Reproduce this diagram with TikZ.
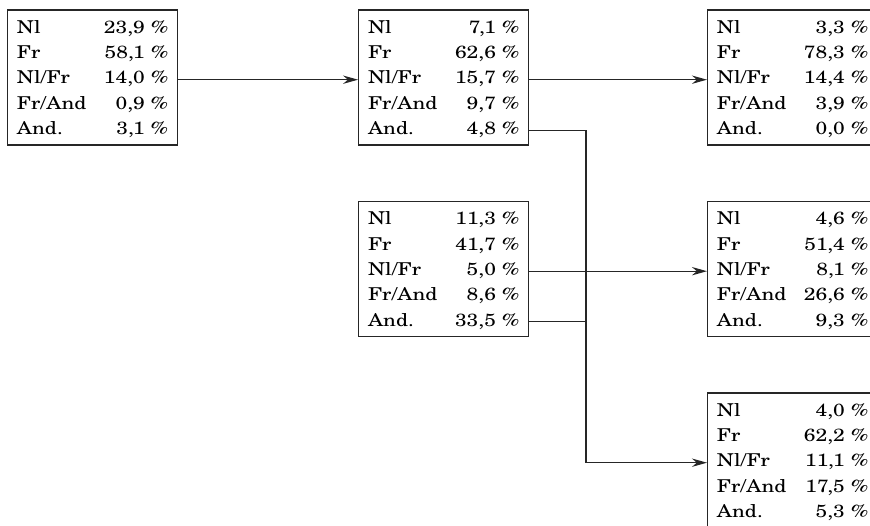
\documentclass[tikz,border=0pt]{standalone}
\usepackage{fontspec}
\setmainfont{texgyreschola-regular.otf}[FakeStretch=1.19]
\usetikzlibrary{matrix,arrows.meta,calc}
\tikzset{
  box/.style={matrix of nodes, draw=black!85, line width=0.75pt, inner xsep=5.6pt, inner ysep=2.5pt,
    nodes={inner sep=0pt, text height=11.5pt, text depth=3.7pt, font=\fontsize{10.6}{15}\selectfont},
    column 1/.style={nodes={text width=44pt, align=left}},
    column 2/.style={nodes={text width=46.8pt, align=right}},
    row sep=0pt, column sep=0pt},
  conn/.style={line width=0.75pt, draw=black!85},
  arr/.style={conn, -{Stealth[length=9pt, width=5pt]}}
}
\begin{document}
\begin{tikzpicture}[x=0.6pt, y=-0.6pt]
\useasboundingbox (0,0) rectangle (870,526);
\clip (0,0) rectangle (870,526);
\matrix (b1) [box] at (92.6,77.5) {
Nl & 23,9 \% \\
Fr & 58,1 \% \\
Nl/Fr & 14,0 \% \\
Fr/And & 0,9 \% \\
And. & 3,1 \% \\
};
\matrix (b2) [box] at (443.7,77.5) {
Nl & 7,1 \% \\
Fr & 62,6 \% \\
Nl/Fr & 15,7 \% \\
Fr/And & 9,7 \% \\
And. & 4,8 \% \\
};
\matrix (b3) [box] at (792.6,77.5) {
Nl & 3,3 \% \\
Fr & 78,3 \% \\
Nl/Fr & 14,4 \% \\
Fr/And & 3,9 \% \\
And. & 0,0 \% \\
};
\matrix (b4) [box] at (443.7,269) {
Nl & 11,3 \% \\
Fr & 41,7 \% \\
Nl/Fr & 5,0 \% \\
Fr/And & 8,6 \% \\
And. & 33,5 \% \\
};
\matrix (b5) [box] at (792.6,269) {
Nl & 4,6 \% \\
Fr & 51,4 \% \\
Nl/Fr & 8,1 \% \\
Fr/And & 26,6 \% \\
And. & 9,3 \% \\
};
\matrix (b6) [box] at (792.6,460.5) {
Nl & 4,0 \% \\
Fr & 62,2 \% \\
Nl/Fr & 11,1 \% \\
Fr/And & 17,5 \% \\
And. & 5,3 \% \\
};
\coordinate (vx) at (586,0);
\coordinate (a1) at ($(b1-3-2.east -| b1.east)+(0,2.2)$);
\coordinate (a2) at ($(b2-3-1.west -| b2.west)+(0,2.2)$);
\coordinate (a3) at ($(b2-3-2.east -| b2.east)+(0,2.2)$);
\coordinate (a4) at ($(b3-3-1.west -| b3.west)+(0,2.2)$);
\coordinate (a5) at ($(b4-3-2.east -| b4.east)+(0,2.2)$);
\coordinate (a6) at ($(b5-3-1.west -| b5.west)+(0,2.2)$);
\coordinate (a7) at ($(b2-5-2.east -| b2.east)+(0,2.2)$);
\coordinate (a8) at ($(b6-3-1.west -| b6.west)+(0,2.2)$);
\coordinate (a9) at ($(b4-5-2.east -| b4.east)+(0,2.2)$);
\draw[arr] (a1) -- (a2);
\draw[arr] (a3) -- (a4);
\draw[arr] (a5) -- (a6);
\draw[arr] (a7) -| (vx |- a8) -- (a8);
\draw[conn] (a9) -- (vx |- a9);
\end{tikzpicture}
\end{document}
